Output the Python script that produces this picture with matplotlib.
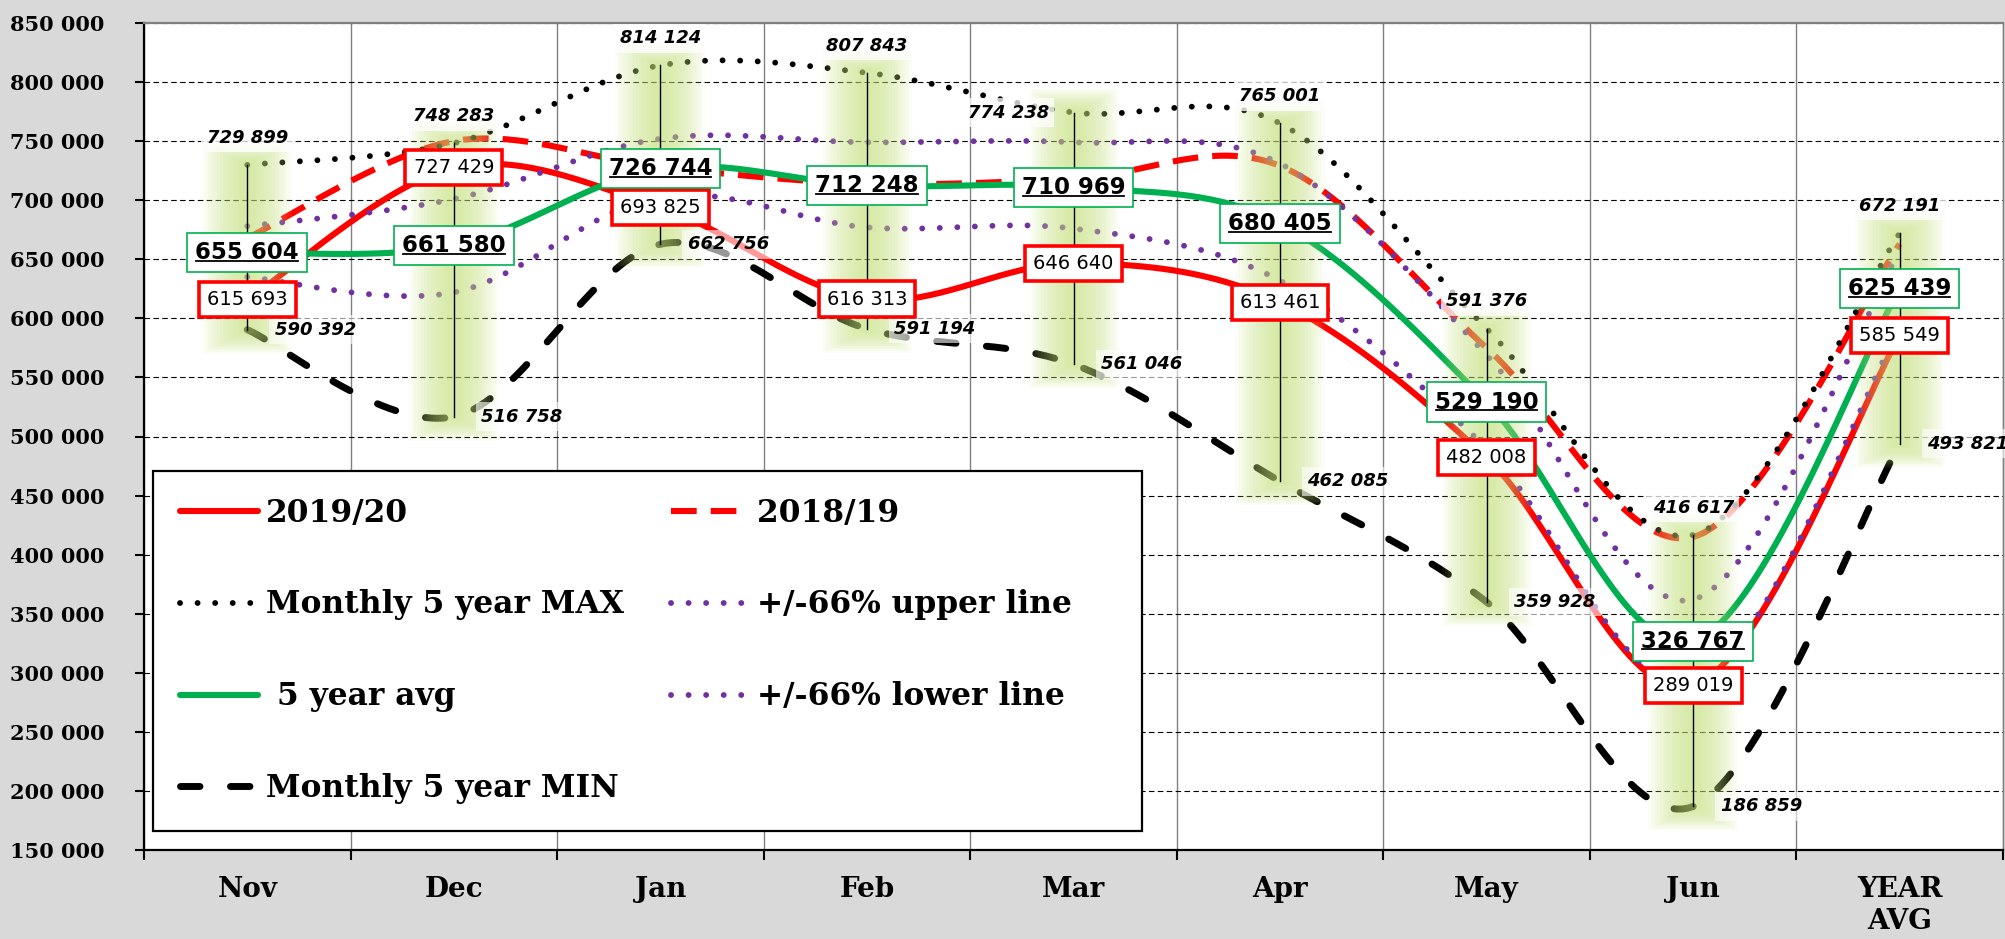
import numpy as np
import matplotlib
matplotlib.use("Agg")
from matplotlib import pyplot as plt
from matplotlib.lines import Line2D
from matplotlib.transforms import IdentityTransform

# ---- data ----
months = ["Nov", "Dec", "Jan", "Feb", "Mar", "Apr", "May", "Jun", "YEAR\nAVG"]
season_2019_20 = [615693, 727429, 693825, 616313, 646640, 613461, 482008, 289019, 585549]
season_2018_19 = [668000, 750000, 728000, 714000, 718000, 729000, 575000, 415000, 663000]
max_5yr = [729899, 748283, 814124, 807843, 774238, 765001, 591376, 416617, 672191]
min_5yr = [590392, 516758, 662756, 591194, 561046, 462085, 359928, 186859, 493821]
avg_5yr = [655604, 661580, 726744, 712248, 710969, 680405, 529190, 326767, 625439]
upper_66 = [678000, 701000, 752000, 749000, 749000, 731000, 569000, 362000, 657000]
lower_66 = [635000, 622000, 703000, 677000, 676000, 632000, 490000, 291000, 592000]

RED = "#ff0000"
GREEN = "#00b050"
PURPLE = "#7030a0"
GLOW = "#c5e27a"
PX = 846.43  # data units per pixel on the y axis


def fmt(v):
    return f"{v:,}".replace(",", " ")


def smooth(xs, ys, n=40):
    """Excel-like smoothed line: Catmull-Rom through the points as cubic Beziers."""
    x = np.asarray(xs, float)
    y = np.asarray(ys, float)
    xp = np.concatenate([[x[0]], x, [x[-1]]])
    yp = np.concatenate([[y[0]], y, [y[-1]]])
    t = np.linspace(0, 1, n)[:, None]
    out = []
    for i in range(len(x) - 1):
        p0 = np.array([xp[i], yp[i]])
        p1 = np.array([xp[i + 1], yp[i + 1]])
        p2 = np.array([xp[i + 2], yp[i + 2]])
        p3 = np.array([xp[i + 3], yp[i + 3]])
        c1 = p1 + (p2 - p0) / 6
        c2 = p2 - (p3 - p1) / 6
        seg = ((1 - t) ** 3) * p1 + 3 * ((1 - t) ** 2) * t * c1 + 3 * (1 - t) * t ** 2 * c2 + t ** 3 * p2
        out.append(seg if i == 0 else seg[1:])
    out = np.vstack(out)
    return out[:, 0], out[:, 1]


fig = plt.figure(figsize=(20.05, 9.39), dpi=100, facecolor="#d9d9d9")
ax = fig.add_axes([144 / 2005, 1 - 850 / 939, (2003 - 144) / 2005, (850 - 23) / 939])
ax.set_facecolor("white")

x = np.arange(len(months))
ax.set_xlim(-0.5, len(months) - 0.5)
ax.set_ylim(150000, 850000)

# axes, ticks, grid
yticks = np.arange(150000, 850001, 50000)
ax.set_yticks(yticks, [fmt(v) for v in yticks])
ax.set_xticks(np.arange(-0.5, len(months), 1), [""] * (len(months) + 1))
ax.set_xticks(x, months, minor=True)
ax.tick_params(axis="y", length=6.5, width=1.5, pad=22, labelsize=15)
ax.tick_params(axis="x", which="major", length=7, width=1.5)
ax.tick_params(axis="x", which="minor", length=0, pad=19, labelsize=20)
for t in ax.get_yticklabels() + ax.get_xticklabels(minor=True):
    t.set_fontfamily("DejaVu Serif")
    t.set_fontweight("bold")
ax.yaxis.grid(True, color="black", lw=0.8, linestyle=(0, (5, 3)), zorder=0.5)
ax.xaxis.grid(True, which="major", color="#808080", lw=1.0, zorder=0.5)
ax.set_axisbelow(True)
for side in ("left", "bottom"):
    ax.spines[side].set_color("black")
    ax.spines[side].set_linewidth(1.6)
ax.spines["top"].set_color("#808080")
ax.spines["top"].set_linewidth(1.6)
ax.spines["right"].set_color("#808080")
ax.spines["right"].set_linewidth(1.0)

# series lines (smoothed)
dots = (0, (0.01, 3.0))
styles = [
    (min_5yr, dict(color="black", lw=5, linestyle=(0, (2.8, 4.4)), dash_capstyle="round", zorder=2.0),
     "Monthly 5 year MIN"),
    (season_2019_20, dict(color=RED, lw=4.4, solid_capstyle="round", zorder=2.1), "2019/20"),
    (season_2018_19, dict(color=RED, lw=4.4, linestyle=(0, (4.2, 2.3)), zorder=2.2), "2018/19"),
    (avg_5yr, dict(color=GREEN, lw=4.4, solid_capstyle="round", zorder=2.3), " 5 year avg"),
    (upper_66, dict(color=PURPLE, lw=4.2, linestyle=dots, dash_capstyle="round", zorder=2.4),
     "+/-66% upper line"),
    (lower_66, dict(color=PURPLE, lw=4.2, linestyle=dots, dash_capstyle="round", zorder=2.4),
     "+/-66% lower line"),
    (max_5yr, dict(color="black", lw=4.2, linestyle=dots, dash_capstyle="round", zorder=2.5),
     "Monthly 5 year MAX"),
]
handles = {}
for ys, kw, label in styles:
    sx, sy = smooth(x, ys)
    ax.plot(sx, sy, **kw)
    hk = {k: v for k, v in kw.items() if k != "zorder"}
    handles[label] = Line2D([], [], **hk)

# high-low glow (soft, layered) and lines
for xi, lo, hi in zip(x, min_5yr, max_5yr):
    for k in range(14):
        w = 10 + 4.2 * k
        ext = (3 + 1.6 * k) * PX
        ax.plot([xi, xi], [lo - ext, hi + ext], color=GLOW, alpha=0.065, lw=w,
                solid_capstyle="butt", zorder=3)
    ax.plot([xi, xi], [lo, hi], color="black", lw=1.0, zorder=3.5)

# data labels
label_font = "DejaVu Sans"
for xi, v in zip(x, season_2019_20):
    ax.text(xi, v, fmt(v), ha="center", va="center", fontsize=14, family=label_font, zorder=5,
            bbox=dict(boxstyle="square,pad=0.42", fc="white", ec=RED, lw=2.6))
avg_texts = []
for xi, v in zip(x, avg_5yr):
    avg_texts.append(ax.text(xi, v, fmt(v), ha="center", va="center", fontsize=16.5,
                             family=label_font, fontweight="bold", zorder=5.1,
                             bbox=dict(boxstyle="square,pad=0.35", fc="white", ec=GREEN, lw=1.2)))
for i, (xi, v) in enumerate(zip(x, max_5yr)):
    off = (-47, 0) if months[i] == "Mar" else (0, 19.5)
    ax.annotate(fmt(v), (xi, v), xytext=off, textcoords="offset points", ha="center", va="center",
                fontsize=13, family=label_font, fontweight="bold", style="italic", zorder=4.5,
                bbox=dict(boxstyle="square,pad=0.3", fc="white", ec="none", alpha=0.75))
for xi, v in zip(x, min_5yr):
    ax.annotate(fmt(v), (xi, v), xytext=(49, 0), textcoords="offset points", ha="center", va="center",
                fontsize=13, family=label_font, fontweight="bold", style="italic", zorder=4.5,
                annotation_clip=False,
                bbox=dict(boxstyle="square,pad=0.3", fc="white", ec="none", alpha=0.6))

# legend (column-major: left column first); trailing spaces widen the right column
order = ["2019/20", "Monthly 5 year MAX", " 5 year avg", "Monthly 5 year MIN",
         "2018/19", "+/-66% upper line", "+/-66% lower line"]
texts = order[:4] + [s + "    " for s in order[4:]]
leg = ax.legend([handles[k] for k in order], texts, ncol=2, mode="expand",
                bbox_to_anchor=(9 / 1859, (850 - 821) / 827, (1142 - 153) / 1859, (821 - 471) / 827),
                loc="upper left", borderaxespad=0, borderpad=0.85, labelspacing=1.95,
                handlelength=2.5, handletextpad=0.25, fancybox=False, framealpha=1,
                prop={"family": "DejaVu Serif", "weight": "bold", "size": 22.5})
leg.get_frame().set_edgecolor("black")
leg.get_frame().set_linewidth(1.6)
leg.set_zorder(6)

# underline the 5 year avg labels (matplotlib text has no underline option)
fig.canvas.draw()
renderer = fig.canvas.get_renderer()
for t in avg_texts:
    bb = t.get_window_extent(renderer)
    yline = bb.y0 + 0.14 * bb.height
    fig.add_artist(Line2D([bb.x0 + 1, bb.x1 - 1], [yline, yline], transform=IdentityTransform(),
                          color="black", lw=1.3, zorder=5.2))

fig.savefig("out.png", dpi=100, facecolor=fig.get_facecolor())
